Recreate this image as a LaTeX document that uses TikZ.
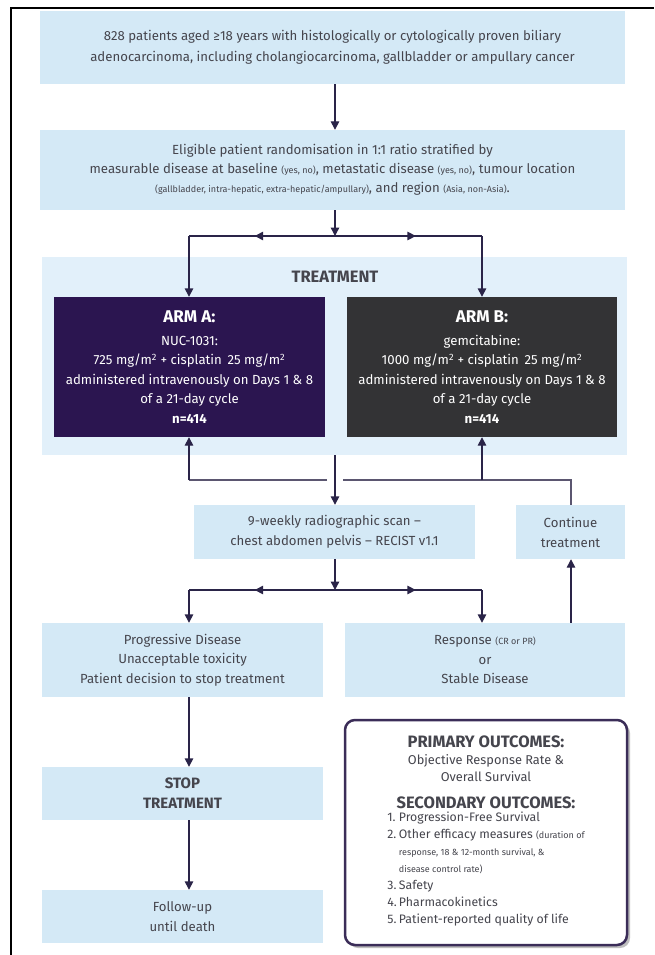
\documentclass[tikz,border=0pt]{standalone}
\usepackage{fontspec}
\setmainfont{Fira Sans}
\usetikzlibrary{arrows.meta,decorations.markings}
\definecolor{lb}{HTML}{D4E9F6}
\definecolor{tb}{HTML}{E2F0FA}
\definecolor{armAc}{HTML}{2B1550}
\definecolor{armBc}{HTML}{333335}
\definecolor{arc}{HTML}{2A2448}
\definecolor{fbc}{HTML}{5B5670}
\definecolor{obc}{HTML}{3B2D58}
\definecolor{txc}{HTML}{45454D}
\newcommand\myBody{\fontsize{13.2}{19.5}\selectfont}
\newcommand\mySmall{\fontsize{9}{11}\selectfont}
\tikzset{
  lbox/.style={fill=lb, draw=none, inner sep=0pt, align=center, text=txc, font=\myBody},
  tbg/.style={fill=tb, draw=none, inner sep=0pt},
  armbox/.style={draw=none, inner sep=0pt, align=center, text=white, font=\myBody},
  conn/.style={draw=arc, line width=1.4pt},
  arr/.style={conn, -{Triangle[width=8.5pt,length=8.5pt]}},
  midarr/.style={postaction=decorate, decoration={markings, mark=at position 0.55 with {\arrow[arc]{Triangle[width=8.5pt,length=8.5pt]}}}},
  fbline/.style={draw=fbc, line width=2.4pt},
  outbox/.style={draw=obc, line width=2.5pt, rounded corners=10pt, fill=white, inner sep=0pt, align=center, text=txc, font=\fontsize{12.8}{17}\selectfont},
  heading/.style={text=txc, font=\fontsize{16.5}{18}\selectfont\bfseries, inner sep=0pt}
}
\begin{document}
\begin{tikzpicture}[x=1pt,y=-1pt]
\useasboundingbox (0,0) rectangle (654,955);
\fill[white] (0,0) rectangle (654,955);
% frame
\draw[line width=2.5pt, black] (11,955) -- (11,8) -- (654,8);

% boxes
\node[lbox, minimum width=585pt, minimum height=73pt, font=\fontsize{13.2}{21}\selectfont] (b1) at (332.5,47.5)
  {828 patients aged ≥18 years with histologically or cytologically proven biliary\\
   adenocarcinoma, including cholangiocarcinoma, gallbladder or ampullary cancer};
\node[lbox, minimum width=585pt, minimum height=80pt, font=\fontsize{13.2}{19}\selectfont] (b2) at (332.5,170)
  {Eligible patient randomisation in 1:1 ratio stratified by\\
   measurable disease at baseline {\mySmall (yes, no)}, metastatic disease {\mySmall (yes, no)}, tumour location\\
   {\mySmall (gallbladder, intra-hepatic, extra-hepatic/ampullary)}, and region {\mySmall (Asia, non-Asia)}.};

\node[tbg, minimum width=585pt, minimum height=198pt] (tr) at (334.5,356) {};
\node[heading] (trl) at (335,277) {TREATMENT};

\node[armbox, fill=armAc, minimum width=271pt, minimum height=140pt] (A) at (189.5,367)
  {{\fontsize{17}{18}\selectfont\bfseries ARM A:}\\[3pt]
   NUC-1031:\\
   725 mg/m\textsuperscript{2} + cisplatin\, 25 mg/m\textsuperscript{2}\\
   administered intravenously on Days 1 \& 8\\
   of a 21-day cycle\\
   {\bfseries n=414}};
\node[armbox, fill=armBc, minimum width=270pt, minimum height=140pt] (B) at (482,367)
  {{\fontsize{17}{18}\selectfont\bfseries ARM B:}\\[3pt]
   gemcitabine:\\
   1000 mg/m\textsuperscript{2} + cisplatin\, 25 mg/m\textsuperscript{2}\\
   administered intravenously on Days 1 \& 8\\
   of a 21-day cycle\\
   {\bfseries n=414}};

\node[lbox, minimum width=281pt, minimum height=54pt, font=\fontsize{13.2}{20}\selectfont] (scan) at (334.5,532)
  {9-weekly radiographic scan –\\ chest abdomen pelvis – RECIST v1.1};
\node[lbox, minimum width=109pt, minimum height=54pt, font=\fontsize{13.2}{20}\selectfont] (cont) at (570.5,532)
  {Continue\\ treatment};

\node[lbox, minimum width=281pt, minimum height=74pt] (prog) at (182.5,660)
  {Progressive Disease\\ Unacceptable toxicity\\ Patient decision to stop treatment};
\node[lbox, minimum width=280pt, minimum height=74pt] (resp) at (485,660)
  {Response {\mySmall (CR or PR)}\\ or\\ Stable Disease};

\node[lbox, minimum width=281pt, minimum height=53pt, font=\fontsize{15}{20}\selectfont\bfseries] (stop) at (182.5,793.5)
  {STOP\\ TREATMENT};
\node[lbox, minimum width=281pt, minimum height=53pt] (fol) at (182.5,916.5)
  {Follow-up\\ until death};

\fill[black!25, rounded corners=10pt] (348,723) rectangle (630,948);
\node[outbox, minimum width=282pt, minimum height=225pt] (out) at (486,832.5)
  {{\fontsize{16.5}{17}\selectfont\bfseries PRIMARY OUTCOMES:}\\
   Objective Response Rate \&\\
   Overall Survival\\[10pt]
   {\fontsize{16.5}{17}\selectfont\bfseries SECONDARY OUTCOMES:}\\
   {\fontsize{12.3}{17}\selectfont
   \begin{tabular}{@{}l@{\,}l@{}}
   1. & Progression-Free Survival\\
   2. & Other efficacy measures {\mySmall (duration of}\\
      & {\mySmall response, 18 \& 12-month survival, \&}\\
      & {\mySmall disease control rate)}\\
   3. & Safety\\
   4. & Pharmacokinetics\\
   5. & Patient-reported quality of life
   \end{tabular}}};

% connectors
\coordinate (brc) at (335,236);
\coordinate (brl) at (189,236);
\coordinate (brr) at (482,236);
\draw[arr] (b1.south -| brc) -- (b2.north -| brc);
\draw[arr] (b2.south -| brc) -- (brc);
\draw[conn, midarr] (brc) -- (brl);
\draw[conn, midarr] (brc) -- (brr);
\draw[arr] (brl) -- (A.north -| brl);
\draw[arr] (brr) -- (B.north -| brr);

\coordinate (fl) at (189,480);
\coordinate (fB) at (482,480);
\coordinate (fr) at (571,480);
\coordinate (gapL) at (327,480);
\coordinate (gapR) at (343,480);
\draw[fbline] (cont.north -| fr) -- (fr) -- (gapR);
\draw[fbline] (gapL) -- (fl);
\draw[arr] (fl) -- (A.south -| fl);
\draw[arr] (fB) -- (B.south -| fB);
\draw[arr] (tr.south -| brc) -- (scan.north -| brc);

\coordinate (cc) at (335,590);
\coordinate (cl) at (189,590);
\coordinate (cr) at (482,590);
\draw[arr] (scan.south -| cc) -- (cc);
\draw[conn, midarr] (cc) -- (cl);
\draw[conn, midarr] (cc) -- (cr);
\draw[arr] (cl) -- (prog.north -| cl);
\draw[arr] (cr) -- (resp.north -| cr);
\draw[arr] (resp.north -| fr) -- (cont.south -| fr);
\draw[arr] (prog.south -| cl) -- (stop.north -| cl);
\draw[arr] (stop.south -| cl) -- (fol.north -| cl);
\end{tikzpicture}
\end{document}
